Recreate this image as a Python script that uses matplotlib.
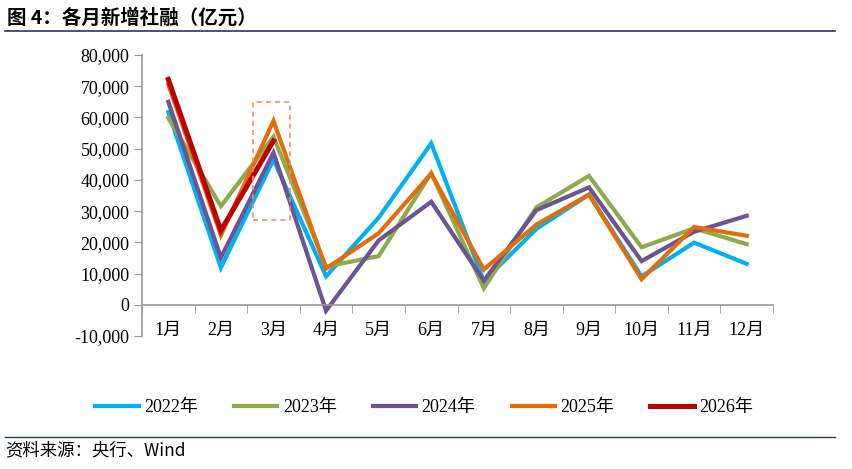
import matplotlib
matplotlib.use("Agg")
import matplotlib.pyplot as plt
from matplotlib.patches import Rectangle
from matplotlib.ticker import FuncFormatter

SERIF = ["Liberation Serif", "Noto Sans CJK SC"]
SANS = ["Noto Sans CJK SC", "DejaVu Sans"]
plt.rcParams["font.family"] = SERIF

months = ["1月", "2月", "3月", "4月", "5月", "6月", "7月", "8月", "9月", "10月", "11月", "12月"]
y2022 = [61700, 11900, 46500, 9100, 27900, 51700, 7600, 24300, 35300, 9100, 19900, 13100]
y2023 = [59800, 31600, 53800, 12200, 15600, 42200, 5300, 31200, 41300, 18400, 24500, 19400]
y2024 = [65000, 15100, 48700, -1900, 20600, 33000, 7700, 30300, 37600, 14000, 23400, 28500]
y2025 = [70600, 22300, 58900, 11600, 22900, 42000, 11300, 25700, 35300, 8200, 24900, 22100]
y2026 = [72200, 23800, 52500]
series = [("2022年", y2022, "#00B0F0", 3.0),
          ("2023年", y2023, "#8DAA4C", 3.0),
          ("2024年", y2024, "#6B5394", 3.0),
          ("2025年", y2025, "#E46C0A", 3.0),
          ("2026年", y2026, "#C00000", 3.6)]

fig = plt.figure(figsize=(8.52, 4.69), dpi=100)
ax = fig.add_axes([0.1667, 0.2836, 0.7406, 0.5991])

for lab, vals, col, lw in series:
    ax.plot(range(len(vals)), vals, color=col, lw=lw, label=lab, solid_joinstyle="miter")

# highlight box around March
ax.add_patch(Rectangle((1.61, 27200), 0.70, 37800, fill=False, ec="#E8936A",
                       ls=(0, (3, 2.5)), lw=1.2, zorder=5))

ax.set_xlim(-0.5, 11.5)
ax.set_ylim(-10000, 80000)
ax.set_yticks(range(-10000, 80001, 10000))
ax.yaxis.set_major_formatter(FuncFormatter(lambda v, p: f"{int(v):,}"))
ax.set_xticks(range(12))
ax.set_xticklabels(months)
ax.set_xticks([i - 0.5 for i in range(13)], minor=True)
ax.tick_params(axis="x", which="major", length=0, pad=12, labelsize=13)
ax.tick_params(axis="x", which="minor", length=6, color="#999999", direction="out")
ax.tick_params(axis="y", length=6, color="#999999", direction="out", pad=3, labelsize=13)
ax.spines[["top", "right"]].set_visible(False)
ax.spines["bottom"].set_position(("data", 0))
for s in ("left", "bottom"):
    ax.spines[s].set_color("#999999")
    ax.spines[s].set_linewidth(1.2)

ax.legend(loc="center", bbox_to_anchor=(0.447, -0.255), ncol=5, frameon=False,
          prop={"family": SERIF, "size": 13}, handlelength=2.4,
          columnspacing=2.0, handletextpad=0.3)

fig.text(0.008, 0.962, "图 4：各月新增社融（亿元）", family=SANS, fontsize=14,
         fontweight="bold", va="center", ha="left")
fig.add_artist(plt.Line2D([0.006, 0.98], [0.934, 0.934], color="#1F3B57", lw=1.2))
fig.add_artist(plt.Line2D([0.006, 0.98], [0.068, 0.068], color="#1F3B57", lw=1.0))
fig.text(0.006, 0.04, "资料来源：央行、Wind", family=SANS, fontsize=12.5,
         va="center", ha="left")

fig.savefig("out.png", dpi=100)
